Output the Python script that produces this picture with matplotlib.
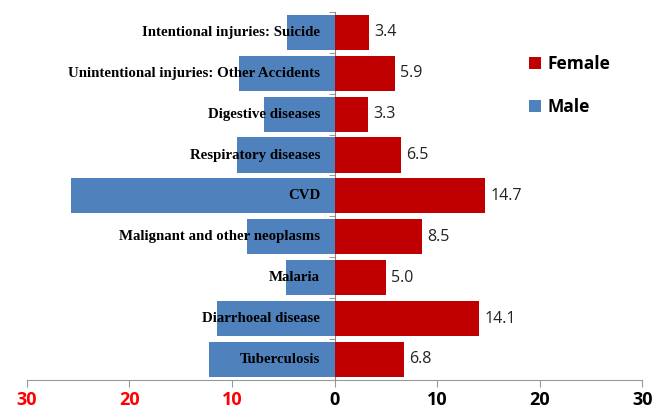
import matplotlib
matplotlib.use("Agg")
import matplotlib.pyplot as plt
import numpy as np

categories = ["Tuberculosis", "Diarrhoeal disease", "Malaria", "Malignant and other neoplasms",
              "CVD", "Respiratory diseases", "Digestive diseases",
              "Unintentional injuries: Other Accidents", "Intentional injuries: Suicide"]
female = [6.8, 14.1, 5.0, 8.5, 14.7, 6.5, 3.3, 5.9, 3.4]
male = [12.2, 11.5, 4.7, 8.5, 25.7, 9.5, 6.9, 9.3, 4.6]
tick_values = [-30, -20, -10, 0, 10, 20, 30]
tick_labels = ["30", "20", "10", "0", "10", "20", "30"]

fig = plt.figure(figsize=(6.56, 4.12), dpi=100)
ax = fig.add_axes([0.041, 0.078, 0.938, 0.893])

y = np.arange(len(categories))
blue = "#4F81BD"
red = "#C00000"
ax.barh(y, [-m for m in male], height=0.86, color=blue, label="Male", zorder=2)
ax.barh(y, female, height=0.86, color=red, label="Female", zorder=2)

ax.set_xlim(-30, 30)
ax.set_ylim(-0.5, len(categories) - 0.5)

for yi, f in zip(y, female):
    ax.text(f + 0.5, yi, f"{f:.1f}", va="center", ha="left", fontsize=11.5,
            family="Open Sans", color="#222222", zorder=3)
for yi, c in zip(y, categories):
    ax.text(-1.4, yi, c, va="center", ha="right", fontsize=10.7, fontweight="bold",
            family="Liberation Serif", color="black", zorder=3)

for s in ["top", "right"]:
    ax.spines[s].set_visible(False)
ax.spines["left"].set_position(("data", 0))
ax.spines["left"].set_color("#888888")
ax.spines["bottom"].set_color("#999999")
ax.spines["left"].set_zorder(1)

ax.set_yticks([])
ax.set_yticks(np.arange(-0.5, len(categories), 1.0), minor=True)
ax.tick_params(axis="y", which="minor", length=4, color="#888888", labelleft=False)

ax.set_xticks(tick_values)
ax.set_xticklabels(tick_labels)
ax.tick_params(axis="x", length=5, color="#999999", pad=3)
for lab, v in zip(ax.get_xticklabels(), tick_values):
    lab.set_fontfamily("Open Sans")
    lab.set_fontweight("bold")
    lab.set_fontsize(13)
    lab.set_color("#FF0000" if v < 0 else "black")

handles, labels = ax.get_legend_handles_labels()
leg = ax.legend(handles[::-1], labels[::-1], loc="upper left", bbox_to_anchor=(0.79, 0.925),
                frameon=False, handlelength=0.7, handleheight=0.7, handletextpad=0.4,
                labelspacing=1.45, prop={"family": "Open Sans", "weight": "bold", "size": 12.5})

fig.savefig("out.png", dpi=100)
